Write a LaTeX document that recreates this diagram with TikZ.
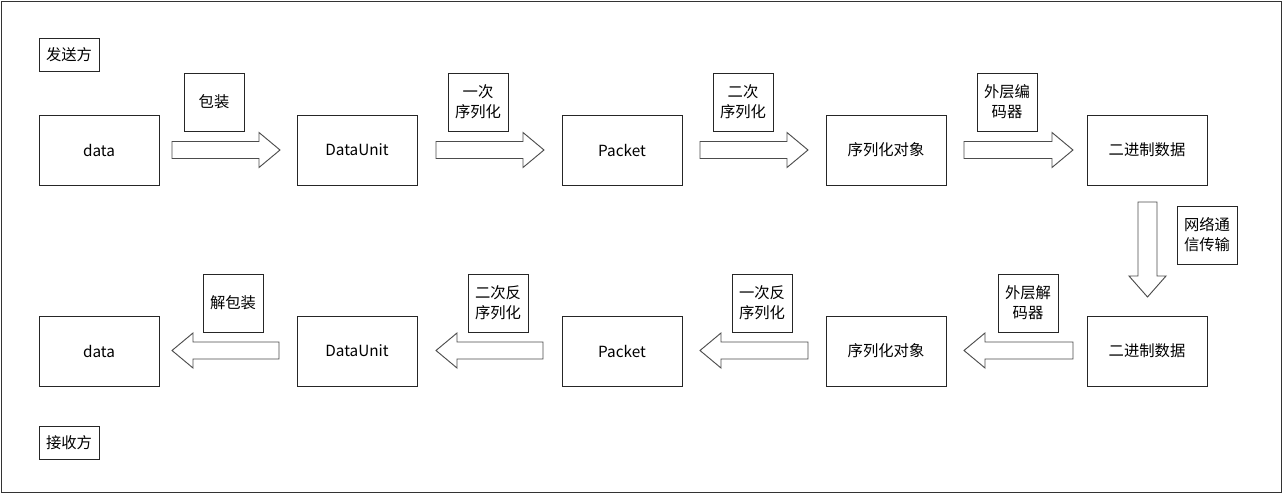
\documentclass[tikz,border=0pt]{standalone}
\usepackage{fontspec}
\setmainfont{Noto Sans CJK SC}
\begin{document}
\begin{tikzpicture}[x=0.75pt,y=-0.75pt,
  box/.style={draw=black!85,line width=0.75pt,minimum width=90pt,minimum height=52.5pt,inner sep=0pt,outer sep=0pt,font=\fontsize{11.5pt}{15pt}\selectfont},
  lbl/.style={draw=black!85,line width=0.75pt,minimum width=45pt,minimum height=43.5pt,inner sep=0pt,outer sep=0pt,align=center,font=\fontsize{11.5pt}{15pt}\selectfont},
  side/.style={draw=black!85,line width=0.75pt,minimum width=45pt,minimum height=24.75pt,inner sep=0pt,outer sep=0pt,font=\fontsize{11.5pt}{15pt}\selectfont},
  barrow/.style={draw=black!70,line width=0.7pt,fill=white,line join=miter}]
\useasboundingbox (0,0) rectangle (1282,493);
\draw[black!80,line width=0.75pt] (1,1) rectangle (1281,492);

\newcommand\myRarrow[3]{% x1 x2 y
  \draw[barrow] (#1,#3-8.5) -- (#2-21,#3-8.5) -- (#2-21,#3-17.5) -- (#2,#3) -- (#2-21,#3+17.5) -- (#2-21,#3+8.5) -- (#1,#3+8.5) -- cycle;}
\newcommand\myLarrow[3]{% tipx endx y
  \draw[barrow] (#2,#3-8.5) -- (#1+21,#3-8.5) -- (#1+21,#3-17.5) -- (#1,#3) -- (#1+21,#3+17.5) -- (#1+21,#3+8.5) -- (#2,#3+8.5) -- cycle;}

% side labels
\node[side] (send) at (69,54.5) {发送方};
\node[side] (recv) at (69,442.5) {接收方};

% top row
\node[box] (t1) at (99,150) {data};
\node[box] (t2) at (357,150) {DataUnit};
\node[box] (t3) at (622,150) {Packet};
\node[box] (t4) at (886,150) {序列化对象};
\node[box] (t5) at (1147,150) {二进制数据};

% bottom row
\node[box] (b1) at (99,351) {data};
\node[box] (b2) at (357,351) {DataUnit};
\node[box] (b3) at (622,351) {Packet};
\node[box] (b4) at (886,351) {序列化对象};
\node[box] (b5) at (1147,351) {二进制数据};

% top labels
\node[lbl] (l1) at (214,102) {包装};
\node[lbl] (l2) at (478,102) {一次\\序列化};
\node[lbl] (l3) at (743,102) {二次\\序列化};
\node[lbl] (l4) at (1007,102) {外层编\\码器};
\node[lbl] (l5) at (1207,235) {网络通\\信传输};

% bottom labels
\node[lbl] (m1) at (233,303) {解包装};
\node[lbl] (m2) at (498,303) {二次反\\序列化};
\node[lbl] (m3) at (762,303) {一次反\\序列化};
\node[lbl] (m4) at (1028,303) {外层解\\码器};

% top arrows
\myRarrow{172}{280}{150}
\myRarrow{436}{544}{150}
\myRarrow{700}{808}{150}
\myRarrow{964}{1073}{150}

% vertical arrow
\draw[barrow] (1138,202) -- (1157,202) -- (1157,276) -- (1166,276) -- (1147.5,297) -- (1129,276) -- (1138,276) -- cycle;

% bottom arrows
\myLarrow{172}{279}{350.5}
\myLarrow{436}{543}{350.5}
\myLarrow{700}{808}{350.5}
\myLarrow{964}{1073}{350.5}
\end{tikzpicture}
\end{document}
